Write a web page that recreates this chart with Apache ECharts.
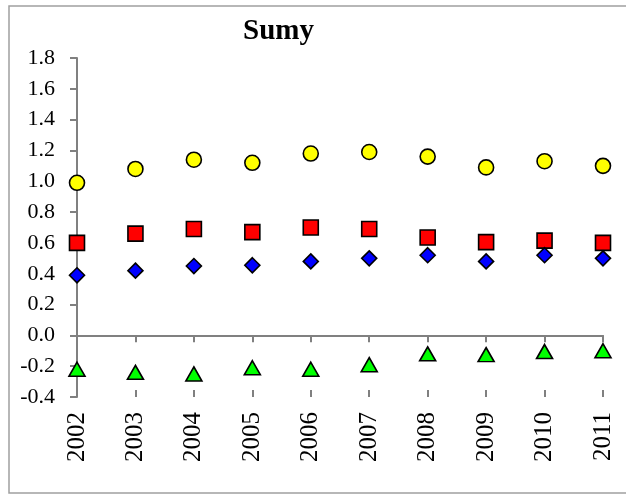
<!DOCTYPE html>
<html>
<head>
<meta charset="utf-8">
<style>
  html, body { margin: 0; padding: 0; background: #fff; }
  #chart { width: 626px; height: 495px; }
</style>
<script src="https://cdn.jsdelivr.net/npm/echarts@6/dist/echarts.min.js"></script>
</head>
<body>
<div id="chart"></div>
<script>
// Years on the category axis
const years = ['2002', '2003', '2004', '2005', '2006', '2007', '2008', '2009', '2010', '2011'];

// Four indicator series for Sumy
const circleValues   = [0.99, 1.08, 1.14, 1.12, 1.18, 1.19, 1.16, 1.09, 1.13, 1.10];
const squareValues   = [0.60, 0.66, 0.69, 0.67, 0.70, 0.69, 0.635, 0.605, 0.615, 0.60];
const diamondValues  = [0.39, 0.42, 0.45, 0.455, 0.48, 0.50, 0.52, 0.48, 0.52, 0.50];
const triangleValues = [-0.22, -0.24, -0.25, -0.21, -0.22, -0.19, -0.12, -0.125, -0.105, -0.10];

// Value axis range
const yMin = -0.4, yMax = 1.8, yStep = 0.2;

const serif = '"Liberation Serif", "Times New Roman", serif';
const axisGray = '#808080';

const chart = echarts.init(document.getElementById('chart'), null, { renderer: 'canvas' });

function scatter(name, values, symbol, color, size) {
  return {
    name: name,
    type: 'scatter',
    xAxisIndex: 0,
    data: values,
    symbol: symbol,
    symbolSize: size,
    itemStyle: { color: color, borderColor: '#000', borderWidth: 1.6, opacity: 1 },
    z: 5
  };
}

chart.setOption({
  animation: false,
  backgroundColor: '#fff',
  title: {
    text: 'Sumy',
    left: 238,
    top: 12,
    textStyle: { fontFamily: serif, fontWeight: 'bold', fontSize: 29, color: '#000' }
  },
  graphic: [{
    type: 'rect',
    shape: { x: 9, y: 6, width: 640, height: 487 },
    style: { fill: 'none', stroke: '#a0a0a0', lineWidth: 1.5 },
    silent: true,
    z: -1
  }],
  grid: { left: 77, right: 23, top: 58, bottom: 98 },
  xAxis: [
    {
      // year labels along the bottom edge
      type: 'category',
      data: years,
      boundaryGap: false,
      position: 'bottom',
      axisLine: { show: false, onZero: false },
      axisTick: { show: false },
      axisLabel: {
        rotate: 90,
        margin: 15,
        fontFamily: serif,
        fontSize: 25,
        color: '#000'
      },
      splitLine: { show: false }
    },
    {
      // zero line with downward ticks
      type: 'category',
      data: years,
      boundaryGap: false,
      position: 'bottom',
      axisLine: { show: true, onZero: true, lineStyle: { color: axisGray, width: 2 } },
      axisTick: { show: true, inside: false, length: 7, lineStyle: { color: axisGray, width: 2 } },
      axisLabel: { show: false },
      splitLine: { show: false }
    },
    {
      // upward half of the crossing ticks
      type: 'category',
      data: years,
      boundaryGap: false,
      position: 'bottom',
      axisLine: { show: false, onZero: true },
      axisTick: { show: true, inside: true, length: 7, lineStyle: { color: axisGray, width: 2 } },
      axisLabel: { show: false },
      splitLine: { show: false }
    }
  ],
  yAxis: {
    type: 'value',
    min: yMin,
    max: yMax,
    interval: yStep,
    axisLine: { show: true, lineStyle: { color: axisGray, width: 2 } },
    axisTick: { show: true, length: 7, lineStyle: { color: axisGray, width: 2 } },
    axisLabel: {
      margin: 22,
      fontFamily: serif,
      fontSize: 22,
      color: '#000',
      formatter: v => v.toFixed(1)
    },
    splitLine: { show: false }
  },
  series: [
    scatter('circles', circleValues, 'circle', '#FFFF00', 15),
    scatter('squares', squareValues, 'rect', '#FF0000', 15),
    scatter('diamonds', diamondValues, 'diamond', '#0000FF', [15, 15]),
    scatter('triangles', triangleValues, 'triangle', '#00FF00', [16, 14])
  ]
});
</script>
</body>
</html>
